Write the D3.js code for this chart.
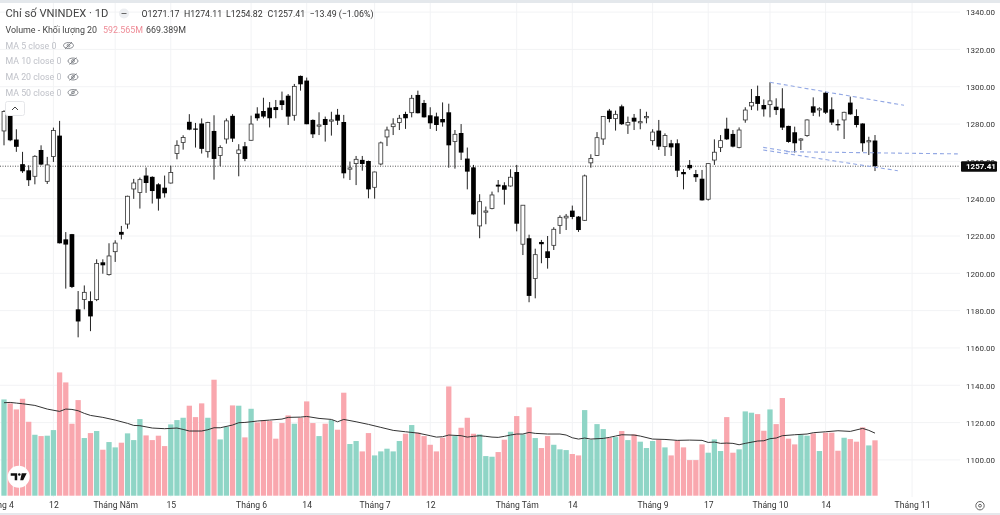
<!DOCTYPE html>
<html><head><meta charset="utf-8">
<script src="https://cdn.jsdelivr.net/npm/d3@7"></script>
<style>html,body{margin:0;padding:0;background:#fff}svg{display:block;font-family:Roboto,sans-serif;filter:blur(0.35px)}</style>
</head><body><svg id="c" width="1000" height="515"></svg>
<script>
const opens=[1276.3,1284.4,1271.7,1258.5,1255.2,1252.0,1266.1,1249.3,1262.6,1273.8,
1218.2,1221.0,1180.7,1186.0,1185.1,1185.9,1205.9,1199.3,1211.6,1222.2,
1226.4,1245.2,1243.3,1252.4,1251.7,1247.7,1245.9,1248.4,1264.2,1270.1,
1281.2,1277.6,1280.3,1265.2,1276.3,1263.1,1272.0,1284.4,1264.2,1268.1,
1271.3,1285.6,1287.0,1288.8,1289.1,1292.7,1295.2,1284.7,1305.8,1303.3,
1282.2,1279.0,1282.7,1281.6,1285.0,1281.1,1255.8,1258.8,1260.8,1260.2,
1246.1,1258.6,1273.1,1278.6,1280.8,1285.4,1286.1,1295.6,1291.3,1284.7,
1284.1,1282.7,1286.3,1270.6,1275.2,1261.5,1256.8,1225.4,1233.1,1234.7,
1247.5,1247.2,1246.8,1254.3,1215.6,1218.8,1197.2,1216.8,1211.8,1215.0,
1225.7,1229.7,1233.6,1230.4,1228.4,1259.2,1263.2,1272.0,1287.2,1282.9,
1289.5,1279.5,1283.4,1280.7,1283.8,1271.1,1276.5,1267.9,1269.7,1269.7,
1254.3,1258.1,1253.2,1250.7,1239.7,1260.7,1267.5,1277.5,1274.7,1267.5,
1282.2,1289.7,1295.0,1290.2,1290.4,1289.3,1288.4,1279.0,1275.6,1271.8,
1273.8,1289.5,1287.7,1296.8,1287.9,1280.0,1282.2,1291.5,1284.3,1280.3,
1270.7,1271.17];
const highs=[1287.4,1289.2,1277.2,1265.1,1257.9,1263.3,1268.6,1262.4,1278.1,1281.7,
1222.1,1221.1,1190.5,1193.5,1190.3,1207.5,1207.5,1216.1,1217.7,1225.4,
1241.6,1250.6,1251.3,1256.7,1252.0,1248.3,1252.4,1257.7,1271.3,1274.0,
1285.3,1280.6,1283.0,1281.2,1284.7,1268.6,1283.0,1285.3,1269.2,1270.4,
1284.5,1289.0,1294.1,1291.8,1292.9,1297.4,1296.1,1301.5,1306.0,1304.9,
1282.5,1286.3,1284.0,1286.6,1288.1,1284.9,1259.9,1262.9,1262.9,1260.4,
1254.5,1270.6,1278.6,1283.1,1284.9,1286.6,1295.6,1297.9,1292.9,1289.0,
1286.1,1291.6,1290.9,1276.8,1280.0,1267.4,1258.1,1242.4,1235.8,1243.8,
1250.0,1248.8,1255.8,1258.1,1236.6,1220.7,1213.2,1217.9,1220.0,1224.7,
1231.1,1231.8,1236.3,1230.7,1252.9,1263.8,1275.7,1284.3,1288.1,1287.2,
1290.4,1284.0,1285.4,1288.1,1286.6,1277.2,1282.2,1275.0,1271.5,1271.8,
1255.8,1260.7,1255.4,1255.4,1258.9,1271.8,1274.1,1283.4,1276.8,1278.2,
1289.0,1298.8,1300.6,1293.2,1302.4,1293.8,1299.2,1279.1,1278.6,1272.4,
1282.5,1294.3,1289.0,1297.4,1294.3,1282.5,1286.6,1294.7,1287.9,1280.4,
1273.2,1274.11];
const lows=[1268.6,1270.8,1265.1,1253.8,1246.8,1247.7,1257.9,1247.9,1259.7,1216.0,
1191.8,1192.1,1165.7,1180.7,1169.0,1185.1,1199.8,1198.8,1206.1,1218.2,
1223.9,1239.9,1234.7,1243.1,1237.4,1233.6,1240.6,1248.1,1261.1,1266.3,
1276.7,1267.4,1264.2,1262.0,1250.2,1257.4,1269.5,1270.4,1252.0,1260.1,
1271.1,1281.8,1283.1,1278.2,1283.1,1287.5,1279.5,1281.8,1297.9,1279.9,
1272.5,1274.1,1270.6,1273.8,1279.5,1250.9,1250.0,1247.3,1255.0,1240.2,
1240.0,1257.9,1268.2,1274.1,1276.8,1277.4,1283.6,1285.7,1283.5,1277.4,
1276.3,1278.6,1256.6,1256.1,1260.7,1245.0,1231.5,1218.8,1226.3,1234.3,
1243.4,1236.8,1246.5,1222.5,1209.8,1184.5,1186.6,1205.4,1202.5,1212.5,
1221.1,1223.2,1229.0,1222.2,1228.1,1256.6,1262.9,1268.8,1280.9,1276.5,
1279.5,1274.7,1276.8,1277.2,1280.4,1268.6,1266.1,1262.9,1262.9,1251.6,
1245.0,1255.4,1249.0,1239.0,1239.0,1258.1,1265.0,1271.5,1267.5,1267.0,
1280.7,1287.5,1287.2,1284.0,1283.6,1284.9,1276.8,1270.0,1264.7,1266.1,
1273.2,1284.3,1284.0,1285.4,1279.5,1276.5,1272.0,1285.0,1278.2,1265.2,
1263.4,1254.82];
const closes=[1286.7,1271.3,1267.8,1254.7,1249.9,1262.7,1258.3,1258.1,1276.5,1216.1,
1215.4,1192.7,1174.2,1189.8,1176.9,1205.3,1204.3,1209.3,1216.2,1220.7,
1241.3,1248.4,1250.2,1248.4,1244.1,1240.0,1242.9,1254.0,1268.6,1272.8,
1277.0,1277.0,1266.7,1280.8,1261.3,1267.4,1281.7,1272.2,1266.1,1261.3,
1280.0,1283.1,1284.0,1283.1,1287.5,1290.2,1284.0,1300.2,1301.3,1279.9,
1274.5,1279.5,1279.5,1282.2,1281.8,1253.6,1256.5,1261.1,1258.6,1245.0,
1254.3,1269.9,1276.8,1280.0,1283.1,1283.1,1293.8,1285.8,1283.6,1280.4,
1279.5,1280.9,1268.6,1274.5,1264.7,1254.5,1231.6,1238.4,1233.4,1242.0,
1246.5,1244.8,1251.5,1226.6,1236.5,1187.9,1210.0,1215.6,1208.2,1223.6,
1230.0,1230.6,1230.2,1223.2,1252.2,1261.6,1272.7,1284.0,1282.7,1285.2,
1279.9,1280.8,1281.3,1281.3,1284.0,1275.7,1267.9,1273.9,1267.5,1255.0,
1253.1,1256.3,1251.5,1239.1,1258.8,1264.9,1271.1,1271.8,1267.9,1276.8,
1287.5,1291.6,1290.8,1287.9,1292.4,1287.5,1278.1,1270.4,1269.7,1272.0,
1282.2,1286.1,1288.2,1286.1,1280.8,1279.3,1286.3,1285.2,1279.5,1269.7,
1271.1,1257.41];
const volumes=[1030,988,923,1037,791,652,638,642,702,1319,
1212,770,1023,617,670,692,492,574,517,567,
667,595,820,645,595,642,531,763,809,834,
963,841,988,834,1241,602,738,966,963,624,
930,784,806,799,610,777,859,770,834,1009,
777,638,770,809,706,1102,553,585,474,670,
431,474,503,474,585,663,756,674,638,545,
474,620,1169,638,727,834,663,656,424,417,
467,599,684,852,656,945,617,510,638,545,
496,488,446,431,916,599,766,713,620,627,
692,595,656,578,510,585,599,517,431,592,
517,381,381,549,460,602,478,841,460,496,
902,888,873,695,923,766,1045,610,549,649,
642,667,478,674,674,481,620,606,578,731,
538,592.565];
const volMaIndex=[0,1,2,3,5,7,9,10,11,12,13,14,16,18,20,21,22,24,26,28,29,30,32,33,34,35,37,38,39,
40,41,43,45,46,48,49,51,53,54,55,57,59,61,63,65,67,69,70,71,72,74,75,76,77,78,
79,80,81,82,83,84,85,86,88,90,91,92,93,94,95,96,97,98,99,100,102,103,105,107,109,111,113,114,115,116,117,
118,119,120,122,123,124,125,126,128,130,131,133,135,137,139,140,141];
const volMaValues=[995,998,991,984,966,927,902,927,923,909,881,859,838,809,774,752,749,724,717,724,709,692,692,706,727,727,756,781,784,
791,799,809,820,838,841,848,827,816,791,816,791,763,731,699,684,670,642,627,631,649,642,627,635,642,635,
627,624,635,649,660,660,677,667,660,660,649,620,606,617,606,610,613,624,638,652,649,638,606,602,592,595,592,570,574,560,563,
560,545,560,585,588,610,617,642,652,660,674,684,695,688,720,699,669.389];
const priceTicks=[1340,1320,1300,1280,1260,1240,1220,1200,1180,1160,1140,1120,1100];
const timeTickIndex=[-1,8,18,27,40,49,60,69,83,92,105,114,124,133,147];
const timeTickLabels=["Tháng 4","12","Tháng Năm","15","Tháng 6","14","Tháng 7","12","Tháng Tám","14","Tháng 9","17","Tháng 10","14","Tháng 11"];
const trendLines=[[124,1302.4,145.7,1290.05],[122.9,1267.5,127.7,1265.0],[126.6,1265.2,154.4,1264.0],[122.9,1266.1,144.7,1255.0]];
const lastPrice=1257.41;
const maLabels=["MA 5 close 0","MA 10 close 0","MA 20 close 0","MA 50 close 0"];

const svg=d3.select("#c");
const x=d3.scaleLinear().domain([0,141]).range([4,875]);
const y=d3.scaleLinear().domain([1340,1100]).range([12.1,459.9]);
const yV=d3.scaleLinear().domain([0,1000]).range([495.7,402.24]);
const W=960,GRID="#f2f3f5";

svg.append("rect").attr("width",1000).attr("height",3).attr("fill","#e4e8ec");
svg.append("rect").attr("y",513).attr("width",1000).attr("height",2).attr("fill","#e6e8ec");

// grid
svg.append("g").selectAll("line").data(priceTicks).join("line")
 .attr("x1",0).attr("x2",W).attr("y1",d=>y(d)).attr("y2",d=>y(d)).attr("stroke",GRID);
svg.append("g").selectAll("line").data(timeTickIndex.filter(d=>d>=0)).join("line")
 .attr("x1",d=>x(d)).attr("x2",d=>x(d)).attr("y1",3).attr("y2",497).attr("stroke",GRID);

// volume
svg.append("g").selectAll("rect").data(volumes).join("rect")
 .attr("x",(d,i)=>x(i)-2.65).attr("width",5.3)
 .attr("y",d=>yV(d)).attr("height",d=>yV(0)-yV(d))
 .attr("fill",(d,i)=>closes[i]>=opens[i]?"#8fd5c6":"#f9a7ae");
svg.append("path").attr("fill","none").attr("stroke","#333").attr("stroke-width",1)
 .attr("d",d3.line().x(d=>x(d[0])).y(d=>yV(d[1]))(d3.zip(volMaIndex,volMaValues)));

// last price
svg.append("line").attr("x1",0).attr("x2",W).attr("y1",y(lastPrice)).attr("y2",y(lastPrice))
 .attr("stroke","#555").attr("stroke-width",1).attr("stroke-dasharray","1 1.5");

// candles
const cg=svg.append("g").selectAll("g").data(opens).join("g");
cg.append("line").attr("x1",(d,i)=>x(i)).attr("x2",(d,i)=>x(i))
 .attr("y1",(d,i)=>y(highs[i])).attr("y2",(d,i)=>y(lows[i])).attr("stroke","#222").attr("stroke-width",1);
cg.append("rect")
 .attr("x",(d,i)=>closes[i]>=d?x(i)-1.95:x(i)-2.35)
 .attr("width",(d,i)=>closes[i]>=d?3.9:4.7)
 .attr("y",(d,i)=>y(Math.max(d,closes[i])))
 .attr("height",(d,i)=>Math.max(1.2,Math.abs(y(d)-y(closes[i]))))
 .attr("fill",(d,i)=>closes[i]>=d?"#fff":"#000")
 .attr("stroke",(d,i)=>closes[i]>=d?"#333":"none").attr("stroke-width",0.8);

// trend lines
svg.append("g").selectAll("line").data(trendLines).join("line")
 .attr("x1",d=>x(d[0])).attr("y1",d=>y(d[1])).attr("x2",d=>x(d[2])).attr("y2",d=>y(d[3]))
 .attr("stroke","#93a8e4").attr("stroke-width",1.1).attr("stroke-dasharray","4 3");

// axes
const ax=svg.append("g").attr("transform","translate(966,0)")
 .call(d3.axisRight(y).tickValues(priceTicks).tickFormat(d3.format(".2f")).tickSize(0).tickPadding(0));
ax.select(".domain").remove();
ax.selectAll("text").attr("font-size",8).attr("font-family","Roboto").attr("fill","#333").attr("dy","0.35em");
const tx=svg.append("g").attr("transform","translate(0,505.3)")
 .call(d3.axisBottom(x).tickValues(timeTickIndex).tickFormat((d,i)=>timeTickLabels[i]).tickSize(0).tickPadding(0));
tx.select(".domain").remove();
tx.selectAll("text").attr("font-size",8.6).attr("font-family","Roboto").attr("fill","#333").attr("dy","0.35em").attr("y",0);

// last price label
svg.append("rect").attr("x",961).attr("y",y(lastPrice)-5).attr("width",36).attr("height",10.6).attr("rx",1).attr("fill","#0b0b0b");
svg.append("text").attr("x",966).attr("y",y(lastPrice)+3).attr("font-size",8).attr("font-weight",700).attr("fill","#fff").text(d3.format(".2f")(lastPrice));

// legend
const lg=svg.append("g");
lg.append("text").attr("x",5.5).attr("y",17).attr("font-size",11.2).attr("fill","#444").text("Chỉ số VNINDEX · 1D");
lg.append("circle").attr("cx",124).attr("cy",13.5).attr("r",5).attr("fill","#eceef1");
lg.append("line").attr("x1",121.5).attr("x2",126.5).attr("y1",13.5).attr("y2",13.5).attr("stroke","#666").attr("stroke-width",1);
const ohlc=[[141.5,"O1271.17"],[184,"H1274.11"],[226,"L1254.82"],[267.5,"C1257.41"],[309.5,"−13.49 (−1.06%)"]];
lg.selectAll("text.o").data(ohlc).join("text").attr("class","o").attr("x",d=>d[0]).attr("y",17).attr("font-size",8.8).attr("fill","#333").text(d=>d[1]);
lg.append("text").attr("x",5.5).attr("y",33).attr("font-size",8.9).attr("fill","#444").text("Volume - Khối lượng 20");
lg.append("text").attr("x",103).attr("y",33).attr("font-size",8.9).attr("fill","#ee8c97").text("592.565M");
lg.append("text").attr("x",146).attr("y",33).attr("font-size",8.9).attr("fill","#444").text("669.389M");
const rowY=[48.5,64,80,95.5],iconX=[68.5,73,73,73];
maLabels.forEach((t,i)=>{
 lg.append("text").attr("x",5.5).attr("y",rowY[i]).attr("font-size",8.8).attr("fill","#bfc1c8").text(t);
 const g=lg.append("g").attr("transform",`translate(${iconX[i]},${rowY[i]-3})`).attr("fill","none").attr("stroke","#6f7278").attr("stroke-width",0.8);
 g.append("ellipse").attr("rx",5).attr("ry",3);
 g.append("circle").attr("r",1.4);
 g.append("line").attr("x1",-3.5).attr("y1",3.5).attr("x2",3.5).attr("y2",-3.5);
});
lg.append("rect").attr("x",5.5).attr("y",101.5).attr("width",19).attr("height",14).attr("rx",2).attr("fill","#fff").attr("stroke","#e6e7ea");
lg.append("path").attr("d","M12 110 L15 107 L18 110").attr("fill","none").attr("stroke","#444").attr("stroke-width",1);

// logo
const lo=svg.append("g").attr("transform","translate(18.7,476.7)");
lo.append("circle").attr("r",11).attr("fill","#fff");
lo.append("path").attr("d","M-8 -3.5H-1.5V3.5H-4V-1H-8ZM3 -3.5H8L4.5 3.5H1.5Z").attr("fill","#111");
lo.append("circle").attr("cx",0.6).attr("cy",-2.2).attr("r",1.3).attr("fill","#111");

// settings icon
const st=svg.append("g").attr("transform","translate(980,505.7)").attr("fill","none").attr("stroke","#555");
st.append("circle").attr("r",4.2).attr("stroke-width",0.9);
st.append("circle").attr("r",1.4).attr("stroke-width",0.9);
</script></body></html>
